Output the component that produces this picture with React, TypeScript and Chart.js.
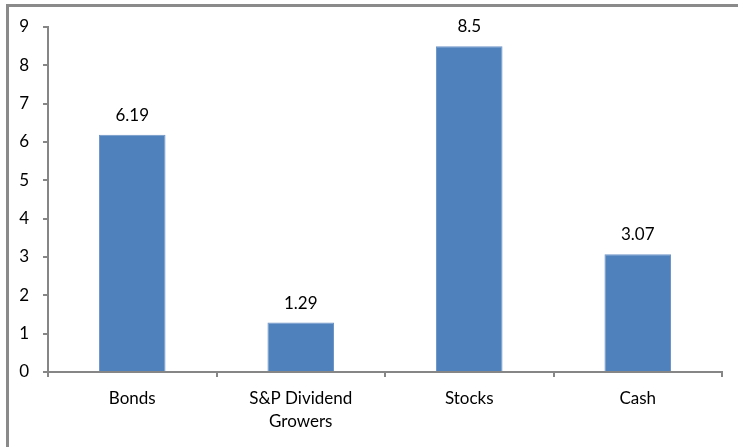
import React, { useEffect, useRef } from "react";
import { Chart, registerables } from "chart.js";

Chart.register(...registerables);

const categories: (string | string[])[] = ["Bonds", ["S&P Dividend", "Growers"], "Stocks", "Cash"];
const values: number[] = [6.19, 1.29, 8.5, 3.07];
const valueLabels: string[] = ["6.19", "1.29", "8.5", "3.07"];
const yMin = 0;
const yMax = 9;

const FONT = "Lato, 'Open Sans', sans-serif";

const valueLabelPlugin = {
  id: "valueLabels",
  afterDatasetsDraw(chart: any) {
    const ctx = chart.ctx;
    const meta = chart.getDatasetMeta(0);
    ctx.save();
    ctx.font = `17px ${FONT}`;
    ctx.fillStyle = "#000";
    ctx.textAlign = "center";
    ctx.textBaseline = "alphabetic";
    meta.data.forEach((bar: any, i: number) => {
      ctx.fillText(valueLabels[i], bar.x, bar.y - 14);
    });
    ctx.restore();
  },
};

export default function App() {
  const ref = useRef<HTMLCanvasElement>(null);
  useEffect(() => {
    document.body.style.margin = "0";
    const chart = new Chart(ref.current!, {
      type: "bar",
      data: {
        labels: categories,
        datasets: [
          {
            data: values,
            backgroundColor: "#4F81BD",
            borderColor: "#6E95C8",
            borderWidth: 1,
            barPercentage: 0.395,
            categoryPercentage: 1,
          },
        ],
      },
      options: {
        animation: false,
        responsive: false,
        maintainAspectRatio: false,
        layout: { padding: { top: 27, right: 16, bottom: 0, left: 0 } },
        plugins: { legend: { display: false }, tooltip: { enabled: false } },
        scales: {
          x: {
            afterFit: (s: any) => {
              s.height = 75;
            },
            grid: {
              offset: true,
              drawOnChartArea: false,
              drawTicks: true,
              tickLength: 5,
              color: "#868686",
              lineWidth: 2,
            },
            border: { display: true, color: "#868686", width: 2 },
            ticks: {
              color: "#000",
              padding: 10,
              font: { family: FONT, size: 17, lineHeight: 1.35 },
              maxRotation: 0,
              autoSkip: false,
            },
          },
          y: {
            min: yMin,
            max: yMax,
            afterFit: (s: any) => {
              s.width = 48;
            },
            grid: {
              drawOnChartArea: false,
              drawTicks: true,
              tickLength: 5,
              color: "#868686",
              lineWidth: 2,
            },
            border: { display: true, color: "#868686", width: 2 },
            ticks: {
              stepSize: 1,
              color: "#000",
              padding: 14,
              font: { family: FONT, size: 17 },
            },
          },
        },
      },
      plugins: [valueLabelPlugin],
    });
    return () => chart.destroy();
  }, []);
  return (
    <div style={{ position: "relative", width: 738, height: 447, background: "#fff", overflow: "hidden" }}>
      <canvas ref={ref} width={738} height={447} style={{ position: "absolute", left: 0, top: 0 }} />
      <div
        style={{
          position: "absolute",
          left: 6,
          top: 4,
          width: 740,
          height: 440,
          borderLeft: "3px solid #8a8a8a",
          borderTop: "3px solid #8a8a8a",
          borderBottom: "1px solid #dcdcdc",
          pointerEvents: "none",
        }}
      />
    </div>
  );
}
